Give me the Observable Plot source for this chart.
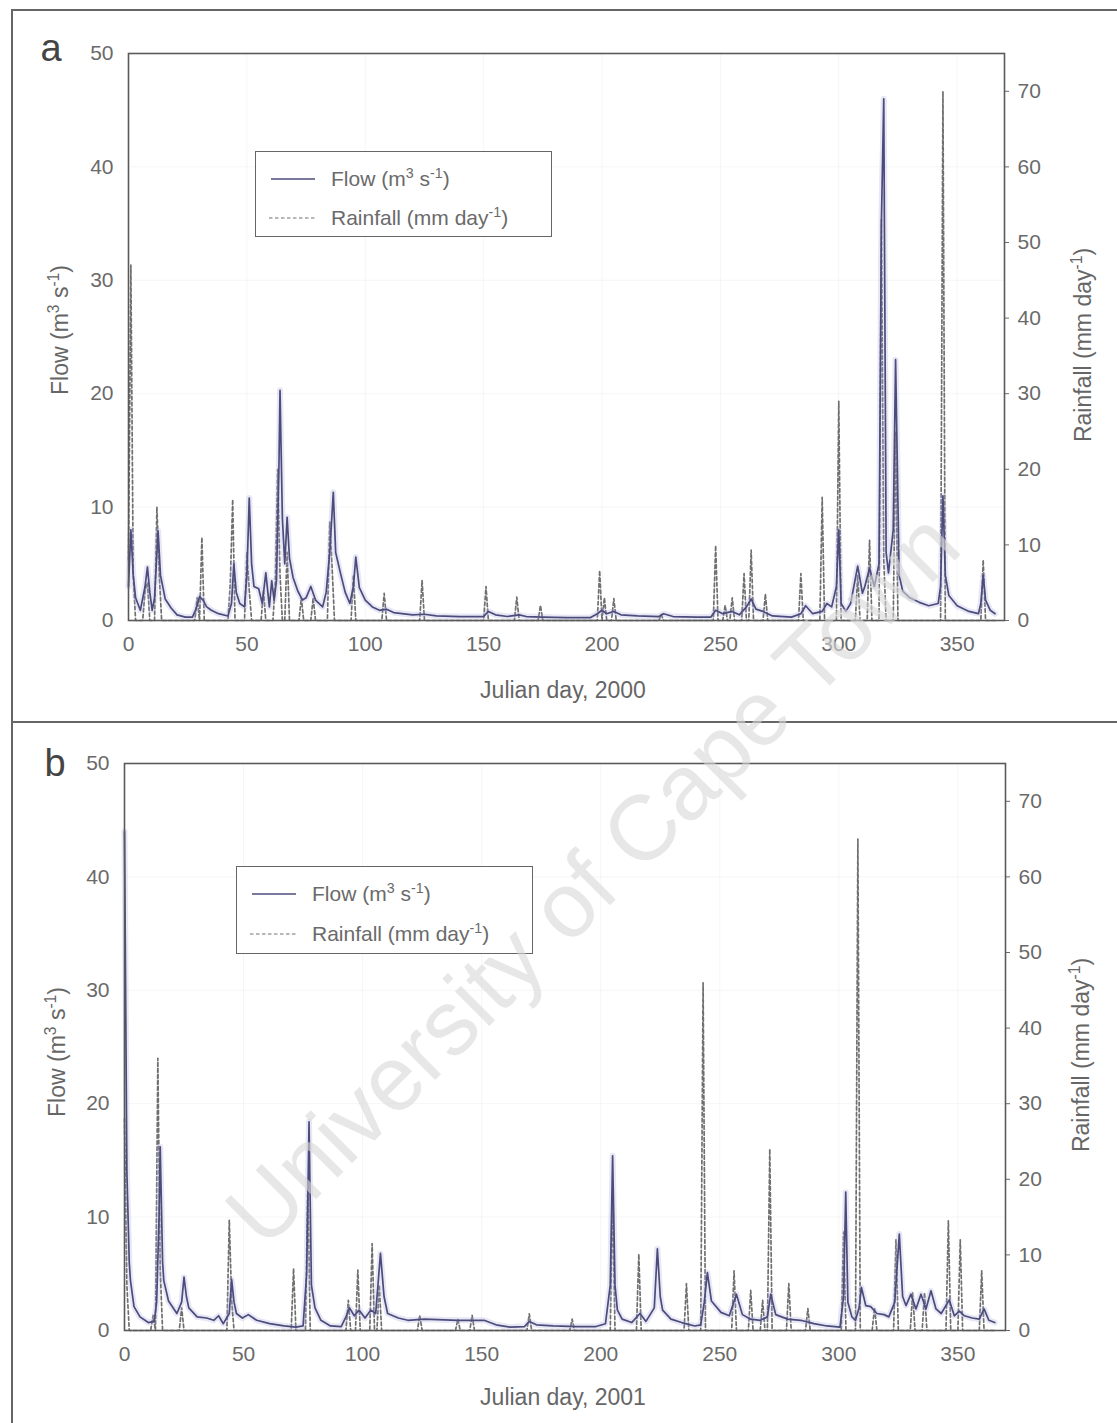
<!DOCTYPE html>
<html><head><meta charset="utf-8">
<script src="https://cdn.jsdelivr.net/npm/d3@7"></script>
<script src="https://cdn.jsdelivr.net/npm/@observablehq/plot@0.6"></script>
<style>
body{margin:0;background:#fff;}
#page{position:relative;width:1117px;height:1423px;overflow:hidden;background:#fff;font-family:"Liberation Sans",Arial,sans-serif;color:#5a5a5a;}
.abs{position:absolute;}
.line{position:absolute;background:#666;}
.title{position:absolute;white-space:nowrap;font-size:23px;color:#666;transform:translate(-50%,-50%);}
.rot{transform:translate(-50%,-50%) rotate(-90deg);}
sup{font-size:0.68em;vertical-align:0.55em;line-height:0;}
.legend{position:absolute;box-sizing:border-box;border:1.6px solid #666;background:#fff;}
.legend .txt{position:absolute;white-space:nowrap;font-size:21px;color:#6a6a6a;transform:translateY(-50%);}
.plab{position:absolute;font-size:38px;color:#444;transform:translate(-50%,-50%);}
svg.plot{position:absolute;left:0;}
</style></head><body><div id="page"></div>
<script>
// ---------- Panel a (2000) ----------
const flowDaysA = [0,1,2,3,5,7,8,9,10,11,12.5,13.5,15.5,18,20.5,24,27,28.5,30,31.5,33,35,38,42,43.5,44.5,45.5,47,49,50,51,52,53,55,56.5,58,59.5,60.5,61.5,62.5,63.5,64,65,66,67,68,69.5,71.5,73.5,75,77,79,82,83.5,85,86.5,87.5,89.5,91.5,93.5,95,96,97.5,100,103,106,109,112,120,125,130,140,150,152,155,160,165,168,175,185,195,198,200,202,205,208,215,224,226,230,240,246,248,251,255,258,261,263,265,268,272,280,284,286,289,293,295,297,299,300,301,303,305,308,310,311,313,315,317,318,319,320,321,323,324,325.5,327,330,334,338,342,343,344,345,346.5,350,355,359,360,361,362,364,366];
const flowA     = [3,8,4,2,0.9,3,4.7,2.5,0.9,2,7.9,4,1.9,1.1,0.5,0.3,0.3,1,2.1,1.8,1.2,0.9,0.6,0.4,1.5,5,2.5,1.5,1.2,4,10.8,5,3,2.8,1.5,4.2,1.2,3.5,1.8,3.5,13,20.3,9,5,9.1,5.5,3.8,2.6,1.8,2,3,1.8,1.2,2.5,6,11.3,6,4.2,2.5,1.5,3,5.6,2.9,1.8,1.2,0.9,1.0,0.7,0.5,0.55,0.4,0.35,0.35,0.8,0.5,0.35,0.5,0.35,0.3,0.25,0.25,0.6,0.9,0.6,0.8,0.5,0.4,0.35,0.6,0.35,0.3,0.3,0.9,0.6,0.8,0.5,1.2,1.9,1.0,0.8,0.4,0.3,0.6,1.3,0.6,0.8,1.5,1.2,3,8,1.5,0.8,1.5,4.8,2.4,3,4.6,3,5,35,46,6,4.2,8,23,4,2.6,2,1.6,1.3,1.5,3,11,4,2.2,1.3,0.8,0.6,1.5,4,1.8,0.9,0.6];
const rainDaysA = [0,1,2,7,8,12,13,29,31,43,44,50,51,57,62,63,64,67,73,78,85,86,95,108,124,151,164,174,199,201,205,225,248,252,255,260,263,269,284,293,300,308,313,318,319,324,344,361];
const rainA     = [8,47,6,4,5,15,6,3,11,5,16,9,4,4,5,20,6,9,3,3,13,7,6,3.6,5.3,4.5,3.1,2,6.6,3,2.9,0.8,9.9,2,3,6.2,9.3,3.5,6.2,16.3,29,6,10.6,53,8,25,70,8];

// ---------- Panel b (2001) ----------
const flowDaysB = [0,1,2,2.5,4,6.5,10,12.5,13.5,14.5,15,16,16.5,18.5,22,24,25,26,27,30.5,34.5,37.5,39.5,41.5,44,45,46,47,49.5,52,55.5,61,67,72,75,76.5,77.5,78.5,80,82.5,86.5,91,93,94.5,96.5,98.5,101,103.5,105.5,107.5,109,110.5,115,119,126,140,151,156,162,168,170,173,180,190,198,202,204,205,206,207,209,213,216.5,219,222.5,223.8,225,226,229.5,234,239.5,242,243.5,244.8,246.5,250.5,254,257,259.5,263,267,270,271.4,273.5,278.5,284,289.5,295,300.5,302,302.9,303.8,305.5,307,308.5,309.5,311.3,313.4,316,319,321,323.5,325.4,326.8,328.2,330.3,332.4,334.5,336.6,338.7,340.8,343,346.4,348.5,350.6,352.7,356,359,361,363,365.5];
const flowB     = [44,14,6,4.4,2.1,1.2,0.7,0.8,2.5,10,16.2,6,4.4,2.6,1.5,2.5,4.7,3,2,1.2,1.1,0.9,1.3,0.6,1.5,4.5,2.5,1.5,1.1,1.4,0.9,0.6,0.4,0.3,0.4,5,18.4,4,2,0.9,0.4,0.35,1.2,2.0,1.3,1.8,1.1,1.8,1.5,6.8,3,1.5,1.1,0.9,1.0,0.9,0.9,0.5,0.3,0.35,0.8,0.5,0.4,0.35,0.35,0.6,4,15.4,4,1.8,1.0,0.7,1.5,0.8,2,7.2,3,1.8,1.0,0.7,0.4,0.5,2.5,5.1,2.6,1.6,1.3,3.2,1.4,1.0,0.9,1.2,3.2,1.4,1.0,0.9,0.6,0.4,0.3,3,12.2,2.5,1.2,0.9,2,3.8,2.2,2.1,1.5,1.4,1.2,2.5,8.5,3,2.2,3.2,1.9,3.2,1.9,3.5,1.9,1.5,2.7,1.3,1.7,1.3,1.1,1.0,1.9,0.9,0.7];
const rainDaysB = [0,1,12,14,15,24,44,45,71,77,94,98,104,107,124,140,146,170,188,205,216,236,243,256,263,268,271,279,287,302,308,315,324,331,336,346,351,360];
const rainB     = [28,6,2,36,8,3,14.6,4,8.2,20,4,8,11.5,6,2,1.5,2,2.2,1.5,17.6,10.1,6.2,46,7.9,5.3,4,24,6.2,2.9,13,65,3,12,5,5,14.5,12,7.9];

// ---------- tick labels ----------
const dayTicks  = [0,50,100,150,200,250,300,350];
const flowTicks = [0,10,20,30,40,50];
const rainTicks = [0,10,20,30,40,50,60,70];
const flowDomain = [0,50];
const rainDomain = [0,75];
const dayDomain  = [0,370];

const FONT = '"Liberation Sans", Arial, sans-serif';
const page = document.getElementById('page');

function add(html){ page.insertAdjacentHTML('beforeend', html); }

function panel(cfg){
  const flowData = cfg.flowDays.map((d,i)=>({day:d, flow:cfg.flow[i]}));
  const rainMap = new Map(cfg.rainDays.map((d,i)=>[d, cfg.rain[i]]));
  const rainData = d3.range(0,367).map(d=>({day:d, rain: rainMap.has(d) ? rainMap.get(d) : 0}));
  const common = {
    width:1117, height:cfg.height,
    marginTop:cfg.mt, marginBottom:cfg.mb, marginLeft:cfg.ml, marginRight:cfg.mr,
    style:{fontFamily:FONT, fontSize:"21px", color:"#6a6a6a", background:"transparent", overflow:"visible"}
  };
  const rainPlot = Plot.plot({
    ...common,
    x:{domain:dayDomain, axis:null},
    y:{domain:rainDomain, axis:null},
    marks:[
      Plot.gridX(dayTicks.slice(1), {stroke:"#000", strokeOpacity:0.04}),
      Plot.line(rainData, {x:"day", y:"rain", stroke:"#6f6f6f", strokeWidth:1.7, strokeDasharray:"3.5,2.5"}),
      Plot.axisY({anchor:"right", ticks:rainTicks, tickSize:4, tickPadding:9, fontSize:21, label:null})
    ]
  });
  const flowPlot = Plot.plot({
    ...common,
    x:{domain:dayDomain},
    y:{domain:flowDomain},
    marks:[
      Plot.gridY(flowTicks.slice(1,5), {stroke:"#000", strokeOpacity:0.04}),
      Plot.line(flowData, {x:"day", y:"flow", stroke:"#a8a8dc", strokeWidth:6, strokeOpacity:0.28}),
      Plot.line(flowData, {x:"day", y:"flow", stroke:"#4c4c7c", strokeWidth:1.7}),
      Plot.axisY({anchor:"left", ticks:flowTicks, tickSize:0, tickPadding:15, fontSize:21, label:null}),
      Plot.axisX({ticks:dayTicks, tickSize:0, tickPadding:16, fontSize:21, label:null}),
      Plot.frame({stroke:"#5a5a5a", strokeWidth:1.6})
    ]
  });
  for (const p of [rainPlot, flowPlot]) {
    p.classList.add('plot');
    p.style.top = cfg.top + 'px';
    p.style.position = 'absolute';
    page.appendChild(p);
  }
}

// outer borders
add('<div class="line" style="left:12px;top:9px;width:1105px;height:2px"></div>');
add('<div class="line" style="left:11px;top:9px;width:2px;height:1414px"></div>');
add('<div class="line" style="left:12px;top:721px;width:1105px;height:2px"></div>');

panel({top:0, height:711, mt:53, mb:91, ml:128, mr:113,
  flowDays:flowDaysA, flow:flowA, rainDays:rainDaysA, rain:rainA});
panel({top:711, height:712, mt:52, mb:93, ml:124, mr:112,
  flowDays:flowDaysB, flow:flowB, rainDays:rainDaysB, rain:rainB});

// panel labels
add('<div class="plab" style="left:51px;top:48px">a</div>');
add('<div class="plab" style="left:55px;top:763px">b</div>');

// axis titles
const flowTitle = 'Flow (m<sup>3</sup> s<sup>-1</sup>)';
const rainTitle = 'Rainfall (mm day<sup>-1</sup>)';
add(`<div class="title rot" style="left:60px;top:330px">${flowTitle}</div>`);
add(`<div class="title rot" style="left:1083px;top:345px">${rainTitle}</div>`);
add(`<div class="title" style="left:563px;top:690px">Julian day, 2000</div>`);
add(`<div class="title rot" style="left:57px;top:1052px">${flowTitle}</div>`);
add(`<div class="title rot" style="left:1081px;top:1055px">${rainTitle}</div>`);
add(`<div class="title" style="left:563px;top:1397px">Julian day, 2001</div>`);

// legends
function legend(left, top, w, h, x0, y1, y2){
  add(`<div class="legend" style="left:${left}px;top:${top}px;width:${w}px;height:${h}px">
    <svg class="abs" style="left:0;top:0" width="${w}" height="${h}">
      <line x1="${x0-60}" x2="${x0-16}" y1="${y1}" y2="${y1}" stroke="#4c4c7c" stroke-width="1.5"/>
      <line x1="${x0-62}" x2="${x0-16}" y1="${y2}" y2="${y2}" stroke="#a0a0a0" stroke-width="1.5" stroke-dasharray="3.5,2.5"/>
    </svg>
    <div class="txt" style="left:${x0}px;top:${y1}px">${flowTitle}</div>
    <div class="txt" style="left:${x0}px;top:${y2}px">${rainTitle}</div>
  </div>`);
}
legend(255, 151, 297, 86, 75, 27, 66);
legend(236, 866, 297, 88, 75, 27, 67);

// watermark
add(`<svg class="abs" style="left:0;top:0;pointer-events:none" width="1117" height="1423">
  <text x="592" y="878" transform="rotate(-45 592 878)" text-anchor="middle" dominant-baseline="central"
   font-family='${FONT}' font-size="92" fill="rgba(215,215,215,0.6)">University of Cape Town</text>
</svg>`);
</script></body></html>
